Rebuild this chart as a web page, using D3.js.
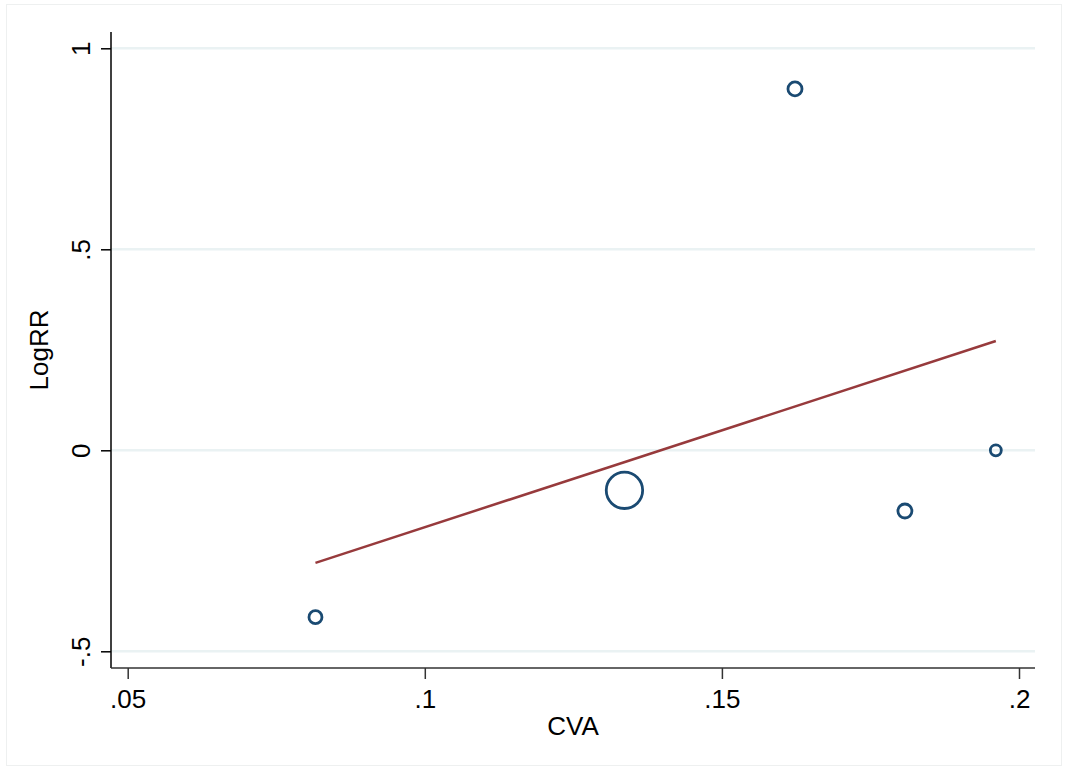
<!DOCTYPE html>
<html><head><meta charset="utf-8">
<script src="https://cdn.jsdelivr.net/npm/d3@7"></script>
<style>body{margin:0;background:#fff;} text{font-family:"Liberation Sans",Arial,sans-serif;fill:#000;}</style>
</head><body><svg id="c" width="1067" height="772"></svg>
<script>
const cva = [0.0816, 0.1336, 0.1623, 0.1808, 0.1961];
const logrr = [-0.415, -0.0995, 0.899, -0.151, 0.0];
const weights = [42, 330, 49, 49, 30];
const fitX = [0.0816, 0.1961];
const fitY = [-0.280, 0.272];
const xTicks = [0.05, 0.1, 0.15, 0.2];
const xTickLabels = [".05", ".1", ".15", ".2"];
const yTicks = [-0.5, 0, 0.5, 1];
const yTickLabels = ["-.5", "0", ".5", "1"];

const svg = d3.select("#c");
svg.append("rect").attr("x",6.5).attr("y",4.5).attr("width",1055).attr("height",761)
  .attr("fill","#fff").attr("stroke","#eef0f0").attr("stroke-width",1);

const x = d3.scaleLinear().domain([0.05,0.2]).range([127.7,1019]);
const y = d3.scaleLinear().domain([-0.5,1]).range([651.3,48.3]);
const r = d3.scaleSqrt().domain([0, d3.max(weights)]).range([0,18.2]);
const pL = 111, pR = 1035, pT = 32, pB = 668;
const fs = "26px";

// gridlines
svg.append("g").selectAll("line").data(yTicks).join("line")
  .attr("x1",pL).attr("x2",pR).attr("y1",d=>y(d)).attr("y2",d=>y(d))
  .attr("stroke","#eaf2f3").attr("stroke-width",2.5);

// y axis
const yAxis = d3.axisLeft(y).tickValues(yTicks).tickSize(10).tickFormat((d,i)=>yTickLabels[i]);
const gy = svg.append("g").attr("transform",`translate(${pL},0)`).call(yAxis);
gy.select(".domain").attr("d",`M0,${pT}V${pB}`).attr("stroke","#000").attr("stroke-width",1.5);
gy.selectAll(".tick line").attr("stroke","#000").attr("stroke-width",1.5);
gy.selectAll(".tick text").attr("x",null).attr("dy",null)
  .attr("transform","translate(-21,0) rotate(-90)").attr("text-anchor","middle")
  .style("font-size",fs).style("font-family","Liberation Sans, Arial, sans-serif").attr("fill","#000");

// x axis
const xAxis = d3.axisBottom(x).tickValues(xTicks).tickSize(11).tickFormat((d,i)=>xTickLabels[i]);
const gx = svg.append("g").attr("transform",`translate(0,${pB})`).call(xAxis);
gx.select(".domain").attr("d",`M${pL},0H${pR}`).attr("stroke","#333").attr("stroke-width",1.5);
gx.selectAll(".tick line").attr("stroke","#333").attr("stroke-width",1.5);
gx.selectAll(".tick text").attr("y",40).attr("dy",null)
  .style("font-size",fs).style("font-family","Liberation Sans, Arial, sans-serif").attr("fill","#000");

// titles
svg.append("text").attr("transform",`translate(48,${(pT+pB)/2}) rotate(-90)`)
  .attr("text-anchor","middle").style("font-size",fs).text("LogRR");
svg.append("text").attr("x",(pL+pR)/2).attr("y",735)
  .attr("text-anchor","middle").style("font-size",fs).text("CVA");

// fit line
svg.append("line").attr("x1",x(fitX[0])).attr("y1",y(fitY[0])).attr("x2",x(fitX[1])).attr("y2",y(fitY[1]))
  .attr("stroke","#973a3c").attr("stroke-width",2.5);

// points
svg.append("g").selectAll("circle").data(cva.map((c,i)=>({c,v:logrr[i],w:weights[i]}))).join("circle")
  .attr("cx",d=>x(d.c)).attr("cy",d=>y(d.v)).attr("r",d=>r(d.w))
  .attr("fill","none").attr("stroke","#1a4a72").attr("stroke-width",2.8);
</script></body></html>
